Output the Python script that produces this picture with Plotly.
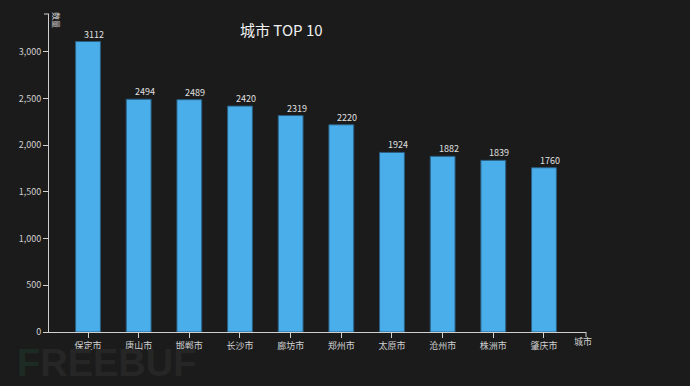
import plotly.graph_objects as go

cities = ["保定市", "唐山市", "邯郸市", "长沙市", "廊坊市", "郑州市", "太原市", "沧州市", "株洲市", "肇庆市"]
counts = [3112, 2494, 2489, 2420, 2319, 2220, 1924, 1882, 1839, 1760]
y_ticks = [0, 500, 1000, 1500, 2000, 2500, 3000]
title_text = "城市 TOP 10"
x_title = "城市"
y_title = "数量"

BG = "#1b1b1b"
AX = "#d0d0d0"
FONT = "Noto Sans CJK SC, DejaVu Sans, sans-serif"

xs = list(range(len(cities)))

fig = go.Figure()
fig.add_trace(go.Bar(
    x=xs, y=counts, width=0.49,
    marker=dict(color="#4aaeea", line=dict(color="#2a5f82", width=1)),
    hoverinfo="x+y",
))

annotations = []
# watermark first so it is drawn beneath other annotations
annotations.append(dict(xref="paper", yref="paper", x=-(49 - 15) / 537, y=-(386 - 332) / 318,
                        text="<b><span style='color:#1d2b25'>F</span>REEBUF</b>", showarrow=False,
                        xanchor="left", yanchor="bottom",
                        font=dict(size=38, color="#262626", family="Liberation Sans, Arial, sans-serif")))
for x, v in zip(xs, counts):
    annotations.append(dict(x=x, y=v, text=str(v), showarrow=False, xanchor="center",
                            yanchor="bottom", xshift=6, yshift=-1,
                            font=dict(size=9, color="#e0e0e0", family=FONT)))
annotations.append(dict(xref="paper", yref="paper", x=(281 - 49) / 537, y=(386 - 30 - 54) / 318,
                        text=title_text, showarrow=False, xanchor="center", yanchor="middle",
                        font=dict(size=15, color="#f0f0f0", family=FONT)))
annotations.append(dict(xref="paper", yref="paper", x=1, y=0, yshift=-9, xshift=-3,
                        text=x_title, showarrow=False, xanchor="center", yanchor="middle",
                        font=dict(size=9, color=AX, family=FONT)))
annotations.append(dict(xref="paper", yref="paper", x=0, y=1, xshift=8, yshift=-6,
                        text=y_title, showarrow=False, textangle=90, xanchor="center", yanchor="middle",
                        font=dict(size=8, color=AX, family=FONT)))

shapes = [
    dict(type="line", xref="paper", yref="paper", x0=0, x1=-5 / 537, y0=1, y1=1,
         line=dict(color=AX, width=1)),
    dict(type="line", xref="paper", yref="paper", x0=1, x1=1, y0=0, y1=-5 / 318,
         line=dict(color=AX, width=1)),
]

fig.update_layout(
    width=690, height=386,
    paper_bgcolor=BG, plot_bgcolor=BG,
    margin=dict(l=49, r=104, t=14, b=54),
    showlegend=False,
    annotations=annotations,
    shapes=shapes,
    bargap=0.5,
    xaxis=dict(range=[-0.77, 9.83], tickmode="array", tickvals=xs, ticktext=cities,
               showgrid=False, zeroline=False, showline=True, linecolor=AX, linewidth=1,
               ticks="outside", ticklen=5, tickcolor=AX, tickfont=dict(size=9, color=AX, family=FONT)),
    yaxis=dict(range=[0, 3407], tickmode="array", tickvals=y_ticks, tickformat=",",
               showgrid=False, zeroline=False, showline=True, linecolor=AX, linewidth=1,
               ticks="outside", ticklen=5, tickcolor=AX, tickfont=dict(size=9, color=AX, family=FONT)),
)

fig.write_html("out.html", config={"displayModeBar": False},
               post_script="document.body.style.margin='0';document.body.style.background='#1b1b1b';document.body.style.overflow='hidden';")
